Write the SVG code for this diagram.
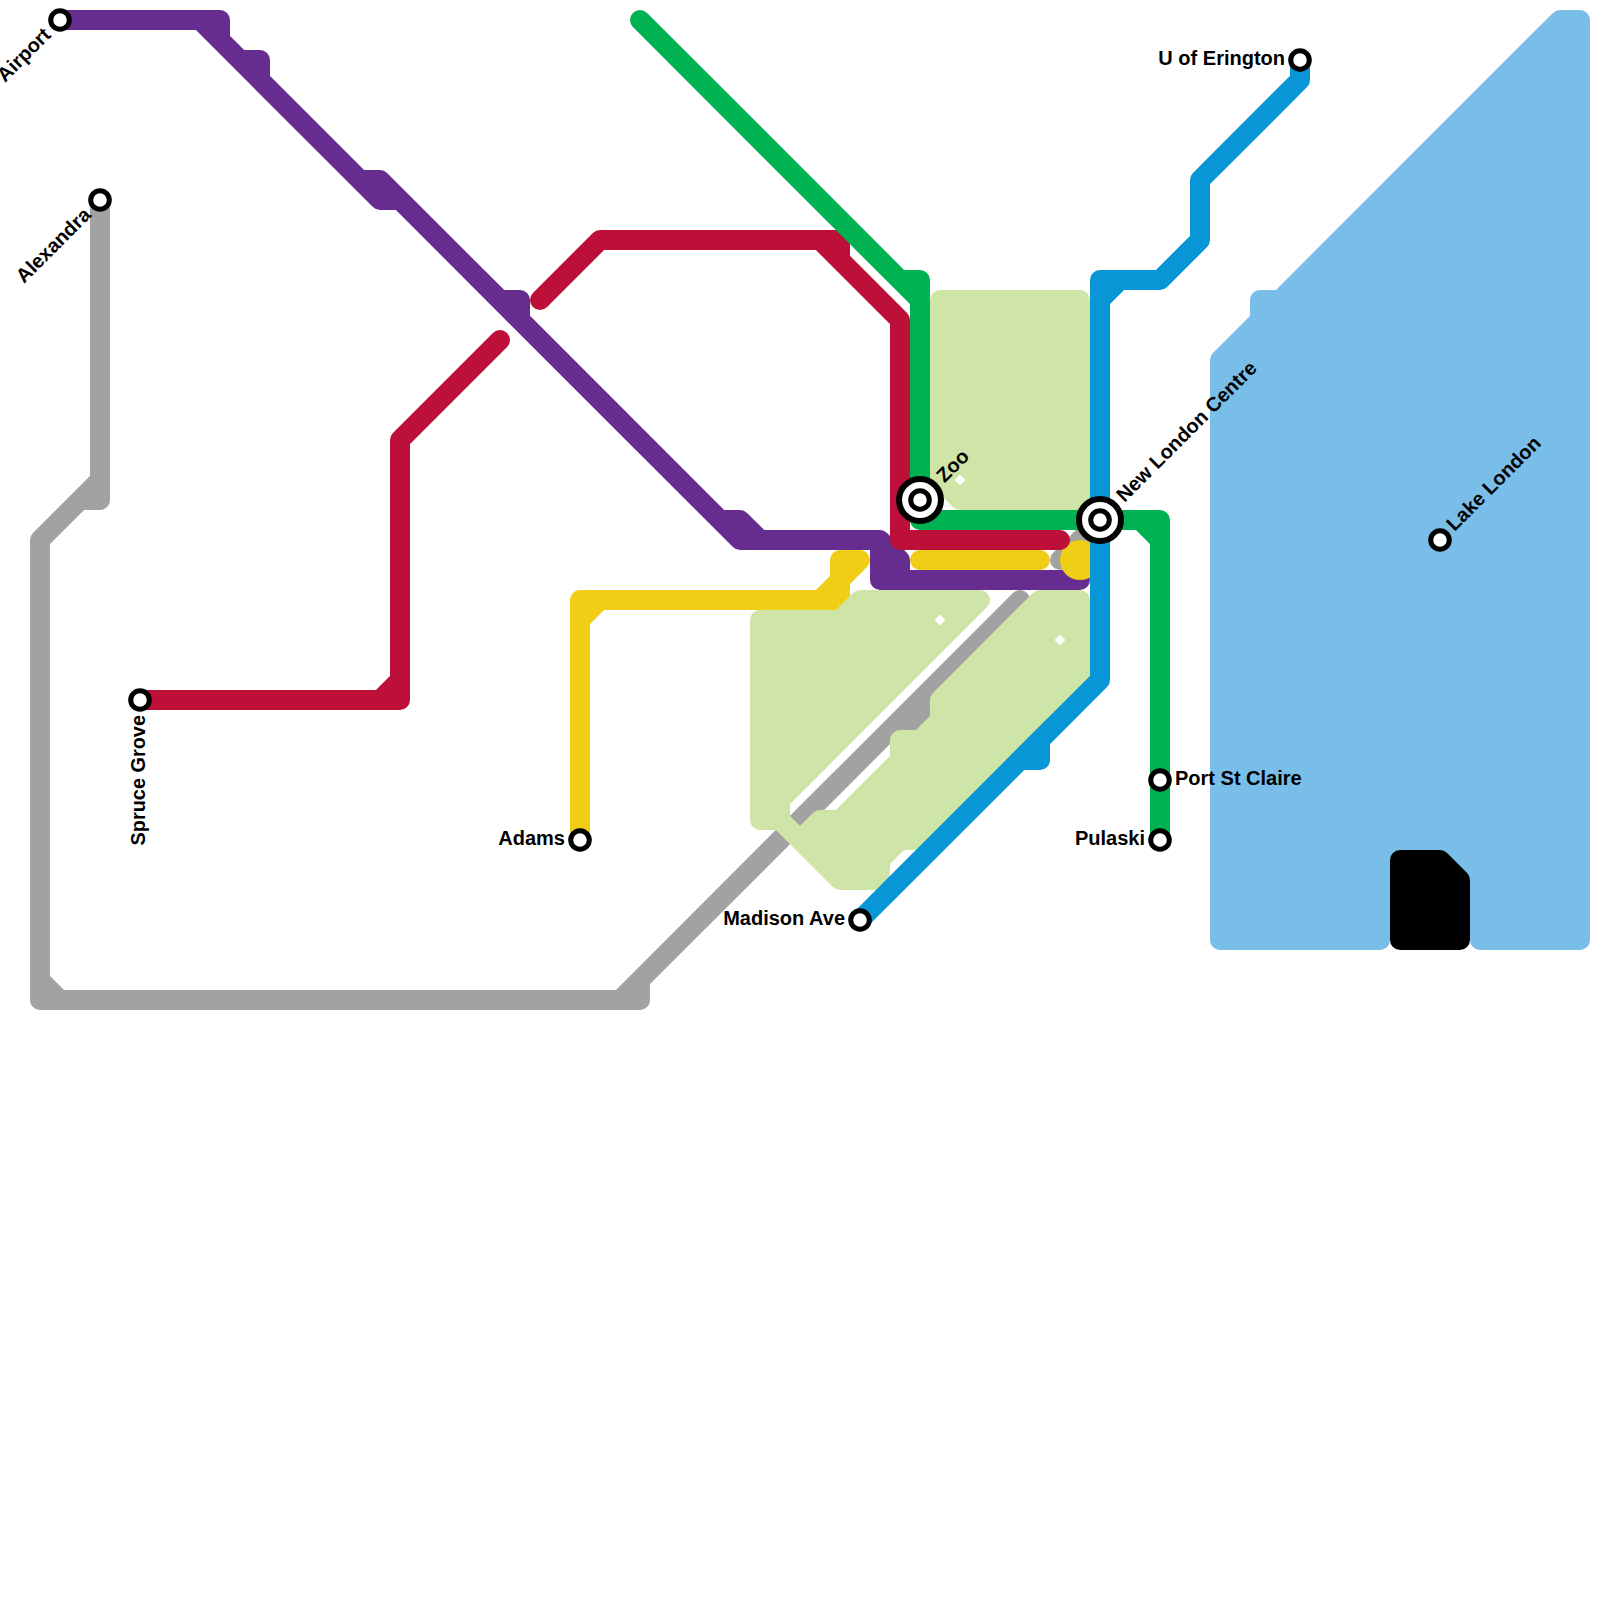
<svg xmlns="http://www.w3.org/2000/svg" width="1600" height="1600" viewBox="0 0 1600 1600">
<style>
.l{fill:none;stroke-width:20;stroke-linecap:round;stroke-linejoin:round}
.a{stroke-width:20;stroke-linejoin:round}
.water{fill:#79bde9;stroke:#79bde9}
.park{fill:#cfe4a7;stroke:#cfe4a7}
.hole{fill:#fff}
.st{fill:#fff;stroke:#000;stroke-width:5}
.ring{fill:#fff;stroke:#000;stroke-width:6}
text{font-family:"Liberation Sans",Arial,sans-serif;font-weight:700;font-size:20px;fill:#000}
.r{font-size:19.900px}
.e{text-anchor:end}
</style>
<rect width="1600" height="1600" fill="#fff"/>
<g id="water">
<polygon class="a water" points="1580,20 1560,20 1280,300 1260,300 1260,320 1220,360 1220,940 1380,940 1380,900 1480,900 1480,940 1580,940"/>
<polygon class="a" fill="#000" stroke="#000" points="1400,860 1440,860 1460,880 1460,940 1400,940"/>
</g>
<g id="connectors">
<path class="l" stroke="#a2a2a2" d="M100 200V500H80M100 480L40 540V1000H640V980L1020 600M40 980L60 1000M620 1000L640 980M920 700V720H900M1060 560L1100 520"/>
<path class="l" stroke="#662c90" d="M60 20H220V40L240 60H260V80L380 200H400L720 520L740 540H880V580H1080M200 20L220 40L260 80M360 180H380L400 200M500 300H520V320M720 520H740L760 540M880 540L900 560V580"/>
<path class="l" stroke="#f0ce15" d="M580 840V600H840V580L860 560H840V580L820 600M580 620L600 600M920 560H1040"/>
<circle cx="1080" cy="560" r="20" fill="#f0ce15"/>
<g id="parks">
<polygon class="a park" points="940,300 1080,300 1080,500 960,500 940,480"/>
<polygon class="a park" points="760,620 840,620 860,600 980,600 780,800 780,820 800,840 820,820 840,820 900,760 900,740 920,740 940,720 940,700 1040,600 1080,600 1080,680 920,840 900,840 880,860 880,880 840,880 780,820 760,820"/>
<polygon class="hole" points="960,474.500 965.500,480 960,485.500 954.500,480"/>
<polygon class="hole" points="940,614.500 945.500,620 940,625.500 934.500,620"/>
<polygon class="hole" points="1060,634.500 1065.500,640 1060,645.500 1054.500,640"/>
</g>
<path class="l" stroke="#bd1038" d="M140 700H400V440L500 340M380 700L400 680M540 300L600 240H820L900 320V540H1060M820 240H840V260"/>
<path class="l" stroke="#00b251" d="M640 20L900 280H920V520H1160V840M900 280L920 300M1140 520L1160 540"/>
<path class="l" stroke="#0896d7" d="M860 920L1100 680V280H1160L1200 240V180L1300 80V60M1100 300L1120 280M1040 740V760H1020"/>
</g>
<g id="airport"><circle class="st" cx="60" cy="20" r="9.300"/><text class="e r" transform="translate(52,36) rotate(-45)">Airport</text></g>
<g id="alexandra"><circle class="st" cx="100" cy="200" r="9.300"/><text class="e r" transform="translate(92,216) rotate(-45)">Alexandra</text></g>
<g id="spruce-grove"><circle class="st" cx="140" cy="700" r="9.300"/><text class="e r" transform="translate(145,715) rotate(-90)">Spruce Grove</text></g>
<g id="adams"><circle class="st" cx="580" cy="840" r="9.300"/><text class="e" x="565" y="845">Adams</text></g>
<g id="madison-ave"><circle class="st" cx="860" cy="920" r="9.300"/><text class="e" x="845" y="925">Madison Ave</text></g>
<g id="zoo"><circle class="ring" cx="920" cy="500" r="21"/><circle class="st" cx="920" cy="500" r="9.300"/><text class="r" transform="translate(944.500,483.500) rotate(-45)">Zoo</text></g>
<g id="new-london-centre"><circle class="ring" cx="1100" cy="520" r="21"/><circle class="st" cx="1100" cy="520" r="9.300"/><text transform="translate(1124.500,503) rotate(-45)">New London Centre</text></g>
<g id="port-st-claire"><circle class="st" cx="1160" cy="780" r="9.300"/><text x="1175" y="785">Port St Claire</text></g>
<g id="pulaski"><circle class="st" cx="1160" cy="840" r="9.300"/><text class="e" x="1145" y="845">Pulaski</text></g>
<g id="u-of-erington"><circle class="st" cx="1300" cy="60" r="9.300"/><text class="e" x="1285" y="65">U of Erington</text></g>
<g id="lake-london"><circle class="st" cx="1440" cy="540" r="9.300"/><text class="r" transform="translate(1454.500,532) rotate(-45)">Lake London</text></g>
</svg>
